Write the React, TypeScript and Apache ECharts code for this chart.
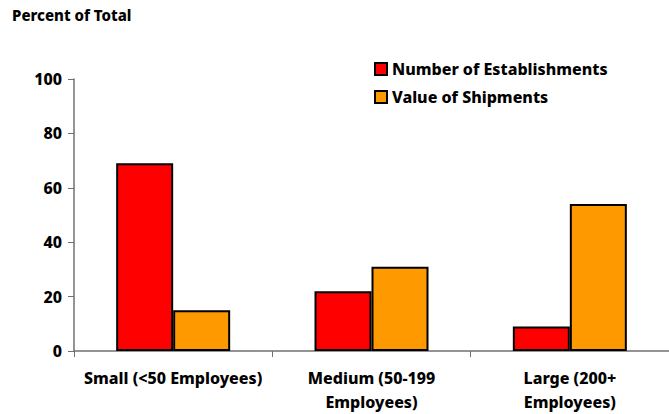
import React, { useEffect, useRef } from "react";
import * as echarts from "echarts";

const categories = ["Small (<50 Employees)", "Medium (50-199\nEmployees)", "Large (200+\nEmployees)"];
const establishments = [69, 22, 9];
const shipments = [15, 31, 54];
const seriesNames = ["Number of Establishments", "Value of Shipments"];
const yTicks = { min: 0, max: 100, interval: 20 };

const FONT = "'Noto Sans', 'Open Sans', sans-serif";
const W = 800;

export default function App() {
  const ref = useRef<HTMLDivElement>(null);
  useEffect(() => {
    if (!ref.current) return;
    const chart = echarts.init(ref.current, undefined, { renderer: "svg" });
    chart.setOption({
      animation: false,
      textStyle: { fontFamily: FONT },
      title: {
        text: "Percent of Total",
        left: 7,
        top: 2,
        textStyle: { fontSize: 15, fontWeight: W, color: "#000", fontFamily: FONT },
      },
      legend: {
        orient: "vertical",
        left: 374,
        top: 61,
        padding: 0,
        itemWidth: 12,
        itemHeight: 12,
        itemGap: 12,
        icon: "rect",
        data: seriesNames,
        textStyle: { fontSize: 16, fontWeight: W, color: "#000", fontFamily: FONT },
      },
      grid: { left: 74, top: 79, height: 274, width: 599 },
      xAxis: {
        type: "category",
        data: categories,
        axisLine: { lineStyle: { color: "#707070", width: 1.5 } },
        axisTick: { show: true, length: 6, alignWithLabel: false, lineStyle: { color: "#707070" } },
        axisLabel: {
          interval: 0,
          margin: 15,
          lineHeight: 24,
          fontSize: 16,
          fontWeight: W,
          color: "#000",
          fontFamily: FONT,
        },
      },
      yAxis: {
        type: "value",
        min: yTicks.min,
        max: yTicks.max,
        interval: yTicks.interval,
        axisLine: { show: true, lineStyle: { color: "#707070", width: 1.5 } },
        axisTick: { show: true, length: 6, lineStyle: { color: "#707070" } },
        splitLine: { show: false },
        axisLabel: { margin: 12, fontSize: 16, fontWeight: W, color: "#000", fontFamily: FONT },
      },
      series: [
        {
          name: seriesNames[0],
          type: "bar",
          data: establishments,
          barWidth: 57,
          barGap: "0%",
          itemStyle: { color: "#FF0000", borderColor: "#000", borderWidth: 2 },
        },
        {
          name: seriesNames[1],
          type: "bar",
          data: shipments,
          barWidth: 57,
          barGap: "0%",
          itemStyle: { color: "#FF9900", borderColor: "#000", borderWidth: 2 },
        },
      ],
    });
    return () => chart.dispose();
  }, []);
  return (
    <div
      ref={ref}
      style={{ position: "absolute", left: 0, top: 0, width: 669, height: 414, background: "#fff" }}
    />
  );
}
